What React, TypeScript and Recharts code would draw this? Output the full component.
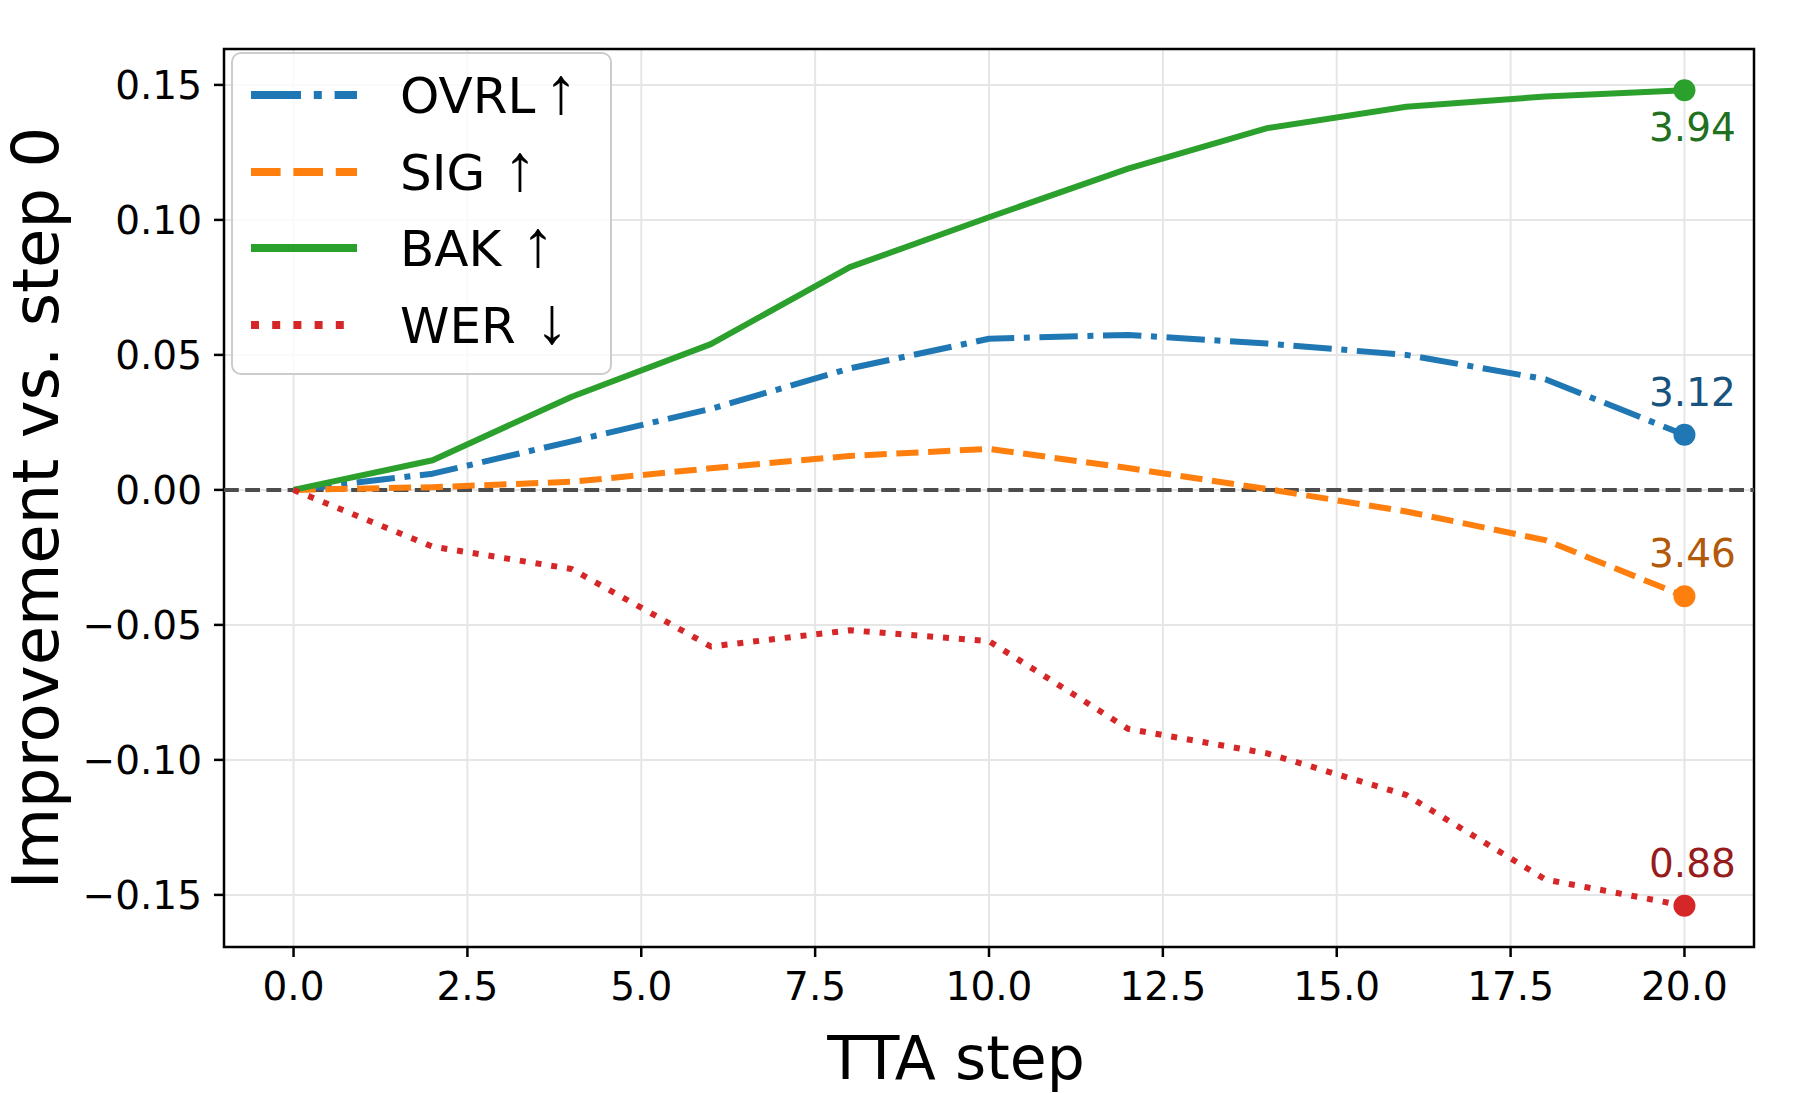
import React from 'react';
import { LineChart, Line, XAxis, YAxis, CartesianGrid, ReferenceLine, ReferenceArea } from 'recharts';

const steps = [0, 2, 4, 6, 8, 10, 12, 14, 16, 18, 20];
const ovrl = [0, 0.006, 0.018, 0.030, 0.045, 0.056, 0.0574, 0.0542, 0.050, 0.041, 0.0204];
const sig = [0, 0.001, 0.003, 0.008, 0.0126, 0.0152, 0.0081, 0.0003, -0.008, -0.0186, -0.0394];
const bak = [0, 0.011, 0.0345, 0.054, 0.0825, 0.101, 0.119, 0.134, 0.1419, 0.1457, 0.148];
const wer = [0, -0.021, -0.0293, -0.058, -0.052, -0.056, -0.0885, -0.0976, -0.113, -0.1443, -0.154];

const seriesKeys = ['ovrl', 'sig', 'bak', 'wer'];
const seriesNames = ['OVRL', 'SIG', 'BAK', 'WER'];
const seriesArrows = ['\u2191', '\u2191', '\u2191', '\u2193'];
const arrowX = [561, 520, 538, 552];
const seriesColors = ['#1f77b4', '#ff7f0e', '#2ca02c', '#d62728'];
const labelColors = ['#16537e', '#b2590a', '#1f701f', '#961b1c'];
const endLabels = ['3.12', '3.46', '3.94', '0.88'];
const labelBelow = [false, false, true, false];
const plotDash = ['38.4 9.6 6 9.6', '22.2 9.6', undefined, '6 9.9'];
const legendDash = ['50 12.8 8 12.8', '29.6 12.8', undefined, '8 13.2'];

const xTicks = [0, 2.5, 5, 7.5, 10, 12.5, 15, 17.5, 20];
const yTicks = [-0.15, -0.1, -0.05, 0, 0.05, 0.1, 0.15];
const xDomain = [-1, 21];
const yDomain = [-0.1693, 0.1633];

const data = steps.map((s, i) => ({ step: s, ovrl: ovrl[i], sig: sig[i], bak: bak[i], wer: wer[i] }));

const FONT = 'DejaVu Sans';
const W = 1800;
const H = 1093;

const fmtY = (v: number) => {
  const s = Math.abs(v).toFixed(2);
  return v < -1e-9 ? '\u2212' + s : s;
};

const XTick = (props: any) => {
  const { x, payload } = props;
  return (
    <text x={x} y={1000} textAnchor="middle" fontSize={39} fontFamily={FONT} fill="#000">
      {Number(payload.value).toFixed(1)}
    </text>
  );
};

const YTick = (props: any) => {
  const { y, payload } = props;
  return (
    <text x={202} y={y + 14} textAnchor="end" fontSize={39} fontFamily={FONT} fill="#000">
      {fmtY(Number(payload.value))}
    </text>
  );
};

const makeDot = (idx: number) => (props: any) => {
  const { cx, cy, index } = props;
  if (index !== steps.length - 1) return <g key={`d-${idx}-${index}`} />;
  const below = labelBelow[idx];
  return (
    <g key={`d-${idx}-${index}`}>
      <circle cx={cx} cy={cy} r={11} fill={seriesColors[idx]} />
      <text
        x={cx + 8}
        y={below ? cy + 51 : cy - 29}
        textAnchor="middle"
        fontSize={39}
        fontFamily={FONT}
        fill={labelColors[idx]}
      >
        {endLabels[idx]}
      </text>
    </g>
  );
};

const legendRows = [95, 172, 248, 325];

export default function App() {
  return (
    <div style={{ position: 'absolute', left: 0, top: 0, width: W, height: H, background: '#fff' }}>
      <LineChart
        width={W}
        height={H}
        data={data}
        margin={{ top: 49, right: 46, left: 124, bottom: 86 }}
      >
        <CartesianGrid stroke="#e6e6e6" strokeWidth={2} />
        <XAxis
          dataKey="step"
          type="number"
          domain={xDomain}
          ticks={xTicks}
          interval={0}
          allowDataOverflow
          height={60}
          axisLine={false}
          tickLine={{ stroke: '#000', strokeWidth: 2.5 }}
          tickSize={10}
          tick={XTick}
        />
        <YAxis
          type="number"
          domain={yDomain}
          ticks={yTicks}
          interval={0}
          allowDataOverflow
          width={100}
          axisLine={false}
          tickLine={{ stroke: '#000', strokeWidth: 2.5 }}
          tickSize={10}
          tick={YTick}
        />
        <ReferenceLine y={0} stroke="#4d4d4d" strokeWidth={4} strokeDasharray="14.8 6.4" />
        {seriesKeys.map((k, i) => (
          <Line
            key={k}
            dataKey={k}
            type="linear"
            stroke={seriesColors[i]}
            strokeWidth={6}
            strokeDasharray={plotDash[i]}
            strokeLinejoin="round"
            dot={makeDot(i)}
            activeDot={false}
            isAnimationActive={false}
          />
        ))}
        <ReferenceArea
          x1={xDomain[0]}
          x2={xDomain[1]}
          y1={yDomain[0]}
          y2={yDomain[1]}
          fill="none"
          fillOpacity={0}
          stroke="#000"
          strokeWidth={2.5}
          ifOverflow="visible"
        />
      </LineChart>
      <svg
        width={W}
        height={H}
        style={{ position: 'absolute', left: 0, top: 0, pointerEvents: 'none' }}
      >
        <rect x={232} y={53} width={379} height={321} rx={9} ry={9} fill="#fff" fillOpacity={0.8} stroke="#cccccc" strokeWidth={2} />
        {seriesKeys.map((k, i) => (
          <g key={`lg-${k}`}>
            <line
              x1={251}
              x2={357}
              y1={legendRows[i]}
              y2={legendRows[i]}
              stroke={seriesColors[i]}
              strokeWidth={8}
              strokeDasharray={legendDash[i]}
            />
            <text x={400} y={legendRows[i] + 18} fontSize={50} fontFamily={FONT} fill="#000">
              {seriesNames[i]}
            </text>
            <text
              x={arrowX[i]}
              y={legendRows[i] + 18}
              textAnchor="middle"
              fontSize={66}
              fontFamily="Liberation Sans, DejaVu Sans"
              fill="#000"
            >
              {seriesArrows[i]}
            </text>
          </g>
        ))}
        <text x={956} y={1079} textAnchor="middle" fontSize={60} fontFamily={FONT} fill="#000">
          TTA step
        </text>
        <text
          transform="translate(58,508) rotate(-90)"
          x={0}
          y={0}
          textAnchor="middle"
          fontSize={64}
          fontFamily={FONT}
          fill="#000"
        >
          Improvement vs. step 0
        </text>
      </svg>
    </div>
  );
}
